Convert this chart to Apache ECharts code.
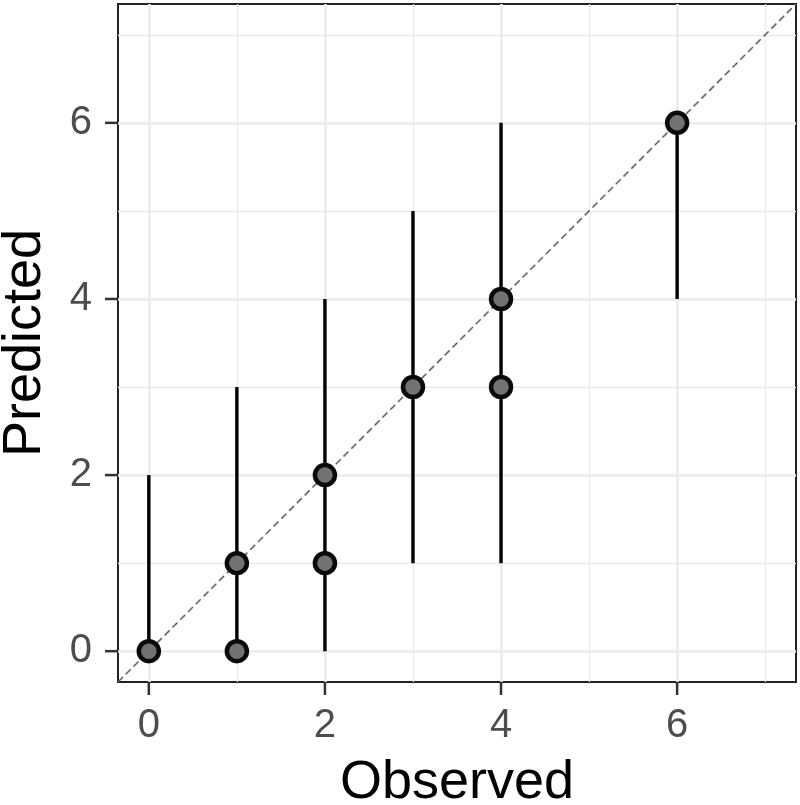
<!DOCTYPE html>
<html>
<head>
<meta charset="utf-8">
<script src="https://cdn.jsdelivr.net/npm/echarts@6/dist/echarts.min.js"></script>
<style>
html,body{margin:0;padding:0;background:#fff;}
#chart{width:800px;height:805px;}
</style>
</head>
<body>
<div id="chart"></div>
<script>
// ---- data ----
const observed  = [0, 1, 1, 2, 2, 3, 4, 4, 6];
const predicted = [0, 1, 0, 2, 1, 3, 4, 3, 6];
const barX    = [0, 1, 2, 3, 4, 6];
const barLow  = [0, 0, 0, 1, 1, 4];
const barHigh = [2, 3, 4, 5, 6, 6];
const tickValues  = [0, 2, 4, 6];
const minorBreaks = [1, 3, 5, 7];
const axisMin = -0.35, axisMax = 7.35;
const identityLine = [[axisMin, axisMin], [axisMax, axisMax]];

const FONT = 'Liberation Sans, Arial, sans-serif';
const GRIDC = '#ebebeb';
const TICK_LEN = 12;

const points = observed.map((o, i) => [o, predicted[i]]);
const bars = barX.map((x, i) => [x, barLow[i], barHigh[i]]);
const xTickData = tickValues.map(v => [v, axisMin]);
const yTickData = tickValues.map(v => [axisMin, v]);

const gridLines = [];
tickValues.forEach(v => {
  gridLines.push({xAxis: v, lineStyle: {width: 2.6}});
  gridLines.push({yAxis: v, lineStyle: {width: 2.6}});
});
minorBreaks.forEach(v => {
  gridLines.push({xAxis: v, lineStyle: {width: 1.3}});
  gridLines.push({yAxis: v, lineStyle: {width: 1.3}});
});

function makeAxis(name, gap, isY) {
  return {
    type: 'value',
    min: axisMin,
    max: axisMax,
    z: 10,
    name: name,
    nameLocation: 'middle',
    nameGap: gap,
    nameTextStyle: {fontFamily: FONT, fontSize: 54, color: '#000'},
    axisLine: {show: false, onZero: false},
    axisTick: {show: false},
    axisLabel: {show: true, customValues: tickValues, fontFamily: FONT,
                fontSize: 40, color: '#4d4d4d', margin: isY ? 26 : 24},
    splitLine: {show: false},
    minorSplitLine: {show: false}
  };
}

const chart = echarts.init(document.getElementById('chart'));
chart.setOption({
  animation: false,
  backgroundColor: '#fff',
  grid: {left: 118, right: 4, top: 4, bottom: 123, show: true,
         outerBoundsMode: 'none', containLabel: false,
         borderColor: '#222', borderWidth: 2, backgroundColor: '#fff'},
  xAxis: makeAxis('Observed', 74, false),
  yAxis: makeAxis('Predicted', 66, true),
  series: [
    {
      type: 'line', data: [], z: 1, silent: true,
      markLine: {silent: true, z: 1, symbol: 'none', label: {show: false},
                 animation: false,
                 lineStyle: {color: GRIDC, type: 'solid'}, data: gridLines}
    },
    {
      type: 'custom', z: 3, silent: true,
      data: bars,
      renderItem: function (params, api) {
        const p1 = api.coord([api.value(0), api.value(1)]);
        const p2 = api.coord([api.value(0), api.value(2)]);
        return {type: 'line', shape: {x1: p1[0], y1: p1[1], x2: p2[0], y2: p2[1]},
                style: {stroke: '#000', lineWidth: 3.4}};
      }
    },
    {
      type: 'line', z: 4, silent: true, data: identityLine,
      symbol: 'none',
      lineStyle: {color: '#666', width: 1.6, type: [7, 4]}
    },
    {
      type: 'scatter', z: 5, silent: true, data: points,
      symbol: 'circle', symbolSize: 20,
      itemStyle: {color: '#727272', borderColor: '#0a0a0a', borderWidth: 4.5, opacity: 1}
    },
    {
      // x-axis tick marks
      type: 'scatter', z: 20, silent: true, clip: false, data: xTickData,
      symbol: 'rect', symbolSize: [2.5, TICK_LEN], symbolOffset: [0, TICK_LEN / 2 + 1],
      itemStyle: {color: '#333', opacity: 1}
    },
    {
      // y-axis tick marks
      type: 'scatter', z: 20, silent: true, clip: false, data: yTickData,
      symbol: 'rect', symbolSize: [TICK_LEN, 2.5], symbolOffset: [-(TICK_LEN / 2 + 1), 0],
      itemStyle: {color: '#333', opacity: 1}
    }
  ]
});
</script>
</body>
</html>
